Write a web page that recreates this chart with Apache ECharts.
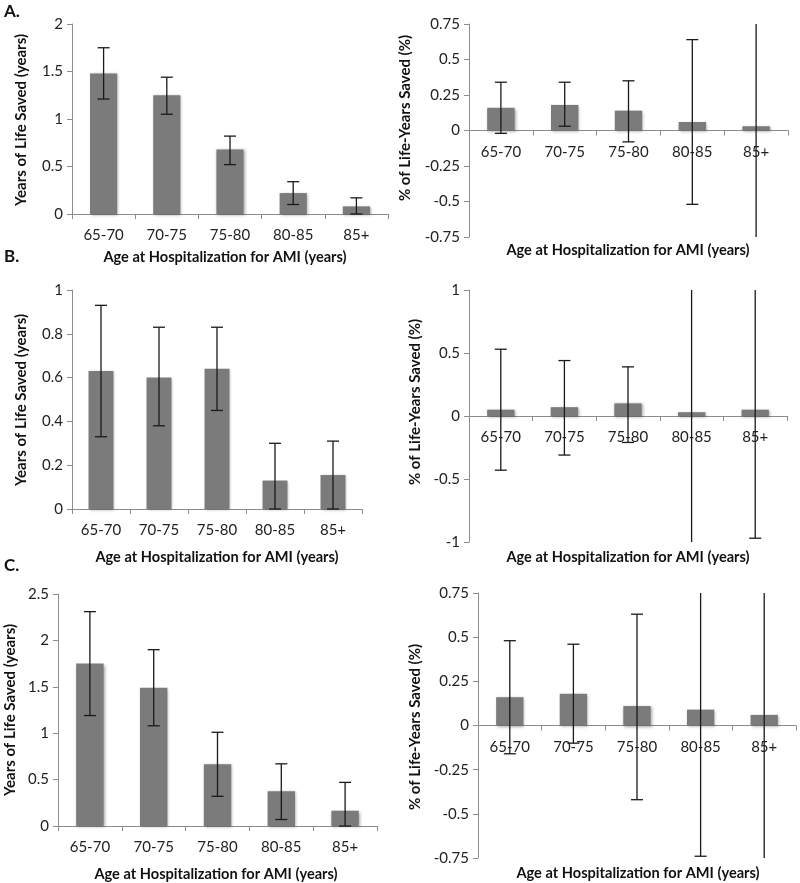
<!DOCTYPE html>
<html><head><meta charset="utf-8">
<script src="https://cdn.jsdelivr.net/npm/echarts@6/dist/echarts.min.js"></script>
<style>html,body{margin:0;padding:0;background:#fff}#c{width:800px;height:883px}</style>
</head><body><div id="c"></div>
<script>
const categories = ['65-70','70-75','75-80','80-85','85+'];

const aYears   = [1.48, 1.25, 0.68, 0.22, 0.08];
const aYearsLo = [1.21, 1.05, 0.52, 0.10, 0.00];
const aYearsHi = [1.75, 1.44, 0.82, 0.34, 0.17];

const aPct   = [0.16, 0.18, 0.14, 0.06, 0.03];
const aPctLo = [-0.02, 0.03, -0.08, -0.52, -0.90];
const aPctHi = [0.34, 0.34, 0.35, 0.64, 0.90];

const bYears   = [0.63, 0.60, 0.64, 0.13, 0.155];
const bYearsLo = [0.33, 0.38, 0.45, 0.00, 0.00];
const bYearsHi = [0.93, 0.83, 0.83, 0.30, 0.31];

const bPct   = [0.05, 0.07, 0.10, 0.03, 0.05];
const bPctLo = [-0.43, -0.31, -0.21, -1.20, -0.97];
const bPctHi = [0.53, 0.44, 0.39, 1.20, 1.20];

const cYears   = [1.75, 1.49, 0.665, 0.375, 0.165];
const cYearsLo = [1.19, 1.08, 0.32, 0.07, 0.00];
const cYearsHi = [2.31, 1.90, 1.01, 0.67, 0.47];

const cPct   = [0.16, 0.18, 0.11, 0.09, 0.06];
const cPctLo = [-0.16, -0.10, -0.42, -0.74, -0.90];
const cPctHi = [0.48, 0.46, 0.63, 0.90, 0.90];

const yTitleYears = 'Years of Life Saved (years)';
const yTitlePct = '% of Life-Years Saved (%)';
const xTitle = 'Age at Hospitalization for AMI (years)';

const FONT = 'Lato, "Open Sans", sans-serif';

const panels = [
  {vals:aYears, lo:aYearsLo, hi:aYearsHi, min:0, max:2, interval:0.5,
   grid:{left:72, top:24, width:316, height:190}},
  {vals:aPct, lo:aPctLo, hi:aPctHi, min:-0.75, max:0.75, interval:0.25,
   grid:{left:469, top:24, width:319, height:213}},
  {vals:bYears, lo:bYearsLo, hi:bYearsHi, min:0, max:1, interval:0.2,
   grid:{left:72, top:290, width:290, height:219}},
  {vals:bPct, lo:bPctLo, hi:bPctHi, min:-1, max:1, interval:0.5,
   grid:{left:469, top:290, width:318, height:252}},
  {vals:cYears, lo:cYearsLo, hi:cYearsHi, min:0, max:2.5, interval:0.5,
   grid:{left:58, top:594, width:319, height:232}},
  {vals:cPct, lo:cPctLo, hi:cPctHi, min:-0.75, max:0.75, interval:0.25,
   grid:{left:478, top:593, width:318, height:265}}
];

const grids = [], xAxes = [], yAxes = [], series = [];
panels.forEach((p, i) => {
  grids.push(Object.assign({containLabel:false}, p.grid));
  // place the category axis (line + labels) at the zero value of the y axis
  const zeroOffset = -p.grid.height * (0 - p.min) / (p.max - p.min);
  xAxes.push({
    type:'category', gridIndex:i, data:categories, position:'bottom',
    offset: zeroOffset,
    axisLine:{onZero:false, lineStyle:{color:'#8c8c8c', width:1}},
    axisTick:{show:true, alignWithLabel:false, length:5, lineStyle:{color:'#8c8c8c'}},
    axisLabel:{color:'#222', fontSize:15, fontFamily:FONT, margin:14},
    splitLine:{show:false}
  });
  yAxes.push({
    type:'value', gridIndex:i, min:p.min, max:p.max, interval:p.interval,
    axisLine:{show:true, lineStyle:{color:'#8c8c8c', width:1}},
    axisTick:{show:true, length:5, lineStyle:{color:'#8c8c8c'}},
    axisLabel:{color:'#222', fontSize:15, fontFamily:FONT, margin:9},
    splitLine:{show:false}
  });
  series.push({
    type:'bar', xAxisIndex:i, yAxisIndex:i, data:p.vals, barWidth:'43%',
    itemStyle:{color:'#7b7b7b', shadowBlur:3, shadowColor:'rgba(0,0,0,0.35)', shadowOffsetX:1, shadowOffsetY:1},
    silent:true, animation:false
  });
  series.push({
    type:'custom', xAxisIndex:i, yAxisIndex:i, animation:false, silent:true, z:5,
    data:p.vals.map((v, k) => [k, p.lo[k], p.hi[k]]),
    renderItem:function(params, api){
      const cs = params.coordSys;
      const top = cs.y, bot = cs.y + cs.height;
      const pHi = api.coord([api.value(0), api.value(2)]);
      const pLo = api.coord([api.value(0), api.value(1)]);
      const x = pHi[0];
      let y1 = pHi[1], y2 = pLo[1];
      const capHi = y1 >= top, capLo = y2 <= bot;
      y1 = Math.max(y1, top); y2 = Math.min(y2, bot);
      const st = {stroke:'#1a1a1a', lineWidth:1.3};
      const w = 6;
      const ch = [{type:'line', shape:{x1:x, y1:y1, x2:x, y2:y2}, style:st}];
      if (capHi) ch.push({type:'line', shape:{x1:x-w, y1:y1, x2:x+w, y2:y1}, style:st});
      if (capLo) ch.push({type:'line', shape:{x1:x-w, y1:y2, x2:x+w, y2:y2}, style:st});
      return {type:'group', children:ch};
    }
  });
});

function txt(x, y, s) {
  return {type:'text', x:x, y:y, z:10,
    style:{text:s, fill:'#111', font:'bold 14.6px ' + FONT, textAlign:'center', textVerticalAlign:'middle'}};
}
function ytxt(x, y, s) {
  return {type:'text', x:x, y:y, rotation:Math.PI/2, z:10,
    style:{text:s, fill:'#111', font:'bold 15px ' + FONT, textAlign:'center', textVerticalAlign:'middle'}};
}

const graphics = [
  {type:'text', x:4, y:12, style:{text:'A.', fill:'#111', font:'bold 17px ' + FONT, textAlign:'left', textVerticalAlign:'middle'}},
  {type:'text', x:4, y:257, style:{text:'B.', fill:'#111', font:'bold 17px ' + FONT, textAlign:'left', textVerticalAlign:'middle'}},
  {type:'text', x:4, y:566, style:{text:'C.', fill:'#111', font:'bold 17px ' + FONT, textAlign:'left', textVerticalAlign:'middle'}},
  txt(225, 257, xTitle), txt(628, 250, xTitle),
  txt(217, 557, xTitle), txt(628, 557, xTitle),
  txt(216, 874, xTitle), txt(638, 873, xTitle),
  ytxt(21, 120, yTitleYears), ytxt(405, 118, yTitlePct),
  ytxt(21, 400, yTitleYears), ytxt(415, 402, yTitlePct),
  ytxt(10, 710, yTitleYears), ytxt(415, 727, yTitlePct)
];

const chart = echarts.init(document.getElementById('c'), null, {renderer:'canvas'});
chart.setOption({
  animation:false,
  backgroundColor:'#fff',
  grid:grids, xAxis:xAxes, yAxis:yAxes, series:series,
  graphic:graphics
});
</script></body></html>
